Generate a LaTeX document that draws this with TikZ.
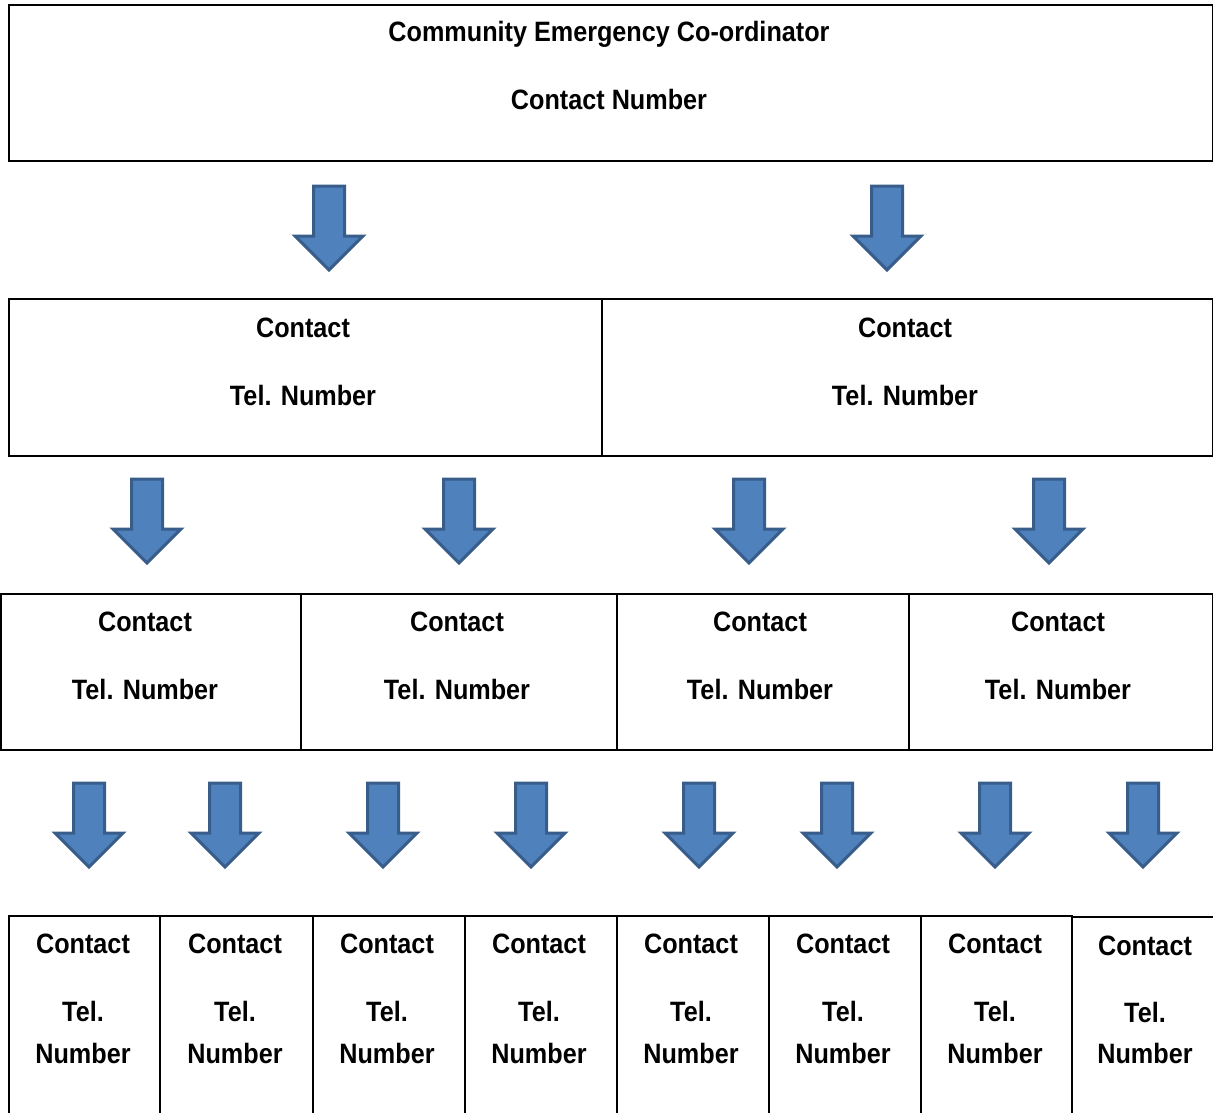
\documentclass[tikz,border=0pt]{standalone}
\usepackage{fontspec}
\setmainfont{Liberation Sans}[FakeStretch=0.9]
\definecolor{arrfill}{HTML}{4F81BD}
\definecolor{arrline}{HTML}{385D8A}
\tikzset{
  box/.style={draw=black, line width=2pt, fill=none, inner sep=0pt, anchor=north west},
  lbl/.style={font=\fontsize{28}{30}\selectfont\bfseries, inner sep=0pt, anchor=base},
  blockarr/.style={fill=arrfill, draw=arrline, line width=3pt, line join=miter},
}
% #1 name, #2 centre x, #3 top y
\newcommand{\downarr}[3]{%
  \coordinate (#1) at (#2,#3);
  \draw[blockarr] ([xshift=-15.5pt,yshift=-1pt]#1) -- ([xshift=15.5pt,yshift=-1pt]#1) -- ([xshift=15.5pt,yshift=-51pt]#1)
    -- ([xshift=34pt,yshift=-51pt]#1) -- ([yshift=-85pt]#1) -- ([xshift=-34pt,yshift=-51pt]#1)
    -- ([xshift=-15.5pt,yshift=-51pt]#1) -- cycle;}
\begin{document}
\begin{tikzpicture}[x=1pt,y=-1pt]
\useasboundingbox (0,0) rectangle (1213,1113);
% top box
\node[box, minimum width=1204pt, minimum height=156pt] (top) at (8,4) {};
\node[lbl] (topA) at (609,42) {Community Emergency Co-ordinator};
\node[lbl] (topB) at (609,110) {Contact Number};
% level 2
\node[box, minimum width=593pt, minimum height=157pt] (b2a) at (8,298) {};
\node[box, minimum width=611pt, minimum height=157pt] (b2b) at (601,298) {};
\foreach \n/\x in {b2a/303, b2b/905}{
  \node[lbl] (\n c) at (\x,337) {Contact};
  \node[lbl] (\n t) at (\x,405) {Tel. Number};
}
% level 3
\node[box, minimum width=300pt, minimum height=156pt] (b3a) at (0,593) {};
\node[box, minimum width=316pt, minimum height=156pt] (b3b) at (300,593) {};
\node[box, minimum width=292pt, minimum height=156pt] (b3c) at (616,593) {};
\node[box, minimum width=304pt, minimum height=156pt] (b3d) at (908,593) {};
\foreach \n/\x in {b3a/145, b3b/457, b3c/760, b3d/1058}{
  \node[lbl] (\n c) at (\x,631) {Contact};
  \node[lbl] (\n t) at (\x,699) {Tel. Number};
}
% level 4
\foreach \n/\l/\w in {b4a/8/151, b4b/159/153, b4c/312/152, b4d/464/152, b4e/616/152, b4f/768/152, b4g/920/151}{
  \node[box, minimum width=\w pt, minimum height=200pt] (\n) at (\l,915) {};
}
\node[box, minimum width=150pt, minimum height=200pt] (b4h) at (1071,916) {};
\foreach \n/\x in {b4a/83, b4b/235, b4c/387, b4d/539, b4e/691, b4f/843, b4g/995}{
  \node[lbl] (\n c) at (\x,953) {Contact};
  \node[lbl] (\n t) at (\x,1021) {Tel.};
  \node[lbl] (\n n) at (\x,1063) {Number};
}
\node[lbl] (b4hc) at (1145,955) {Contact};
\node[lbl] (b4ht) at (1145,1022) {Tel.};
\node[lbl] (b4hn) at (1145,1063) {Number};
% arrows
\downarr{a1}{329}{185}
\downarr{a2}{887}{185}
\downarr{a3}{147}{478}
\downarr{a4}{459}{478}
\downarr{a5}{749}{478}
\downarr{a6}{1049}{478}
\downarr{a7}{89}{782}
\downarr{a8}{225}{782}
\downarr{a9}{383}{782}
\downarr{a10}{531}{782}
\downarr{a11}{699}{782}
\downarr{a12}{837}{782}
\downarr{a13}{995}{782}
\downarr{a14}{1143}{782}
\end{tikzpicture}
\end{document}
